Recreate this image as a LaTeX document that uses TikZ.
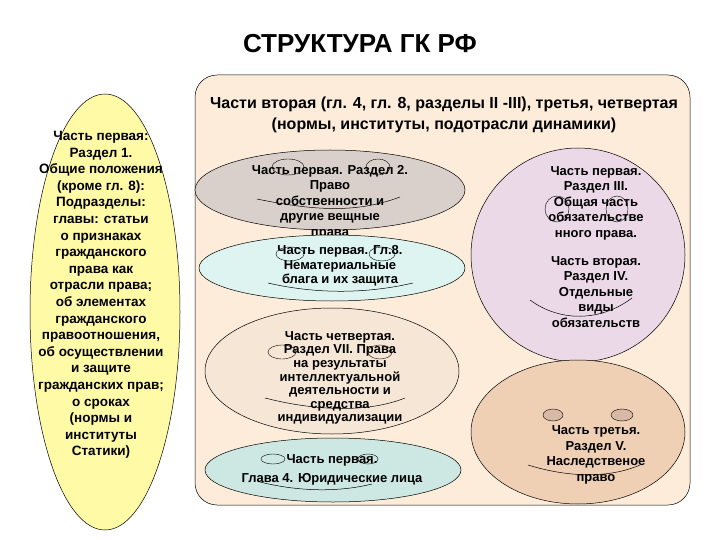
\documentclass[tikz,border=0pt]{standalone}
\usepackage{fontspec}
\setmainfont{Liberation Sans}
\definecolor{bgbox}{RGB}{253,236,218}
\definecolor{ce1}{RGB}{217,208,204}
\definecolor{ce2}{RGB}{221,244,240}
\definecolor{ce3}{RGB}{245,230,214}
\definecolor{ce4}{RGB}{205,232,227}
\definecolor{ce5}{RGB}{235,217,232}
\definecolor{ce6}{RGB}{239,208,181}
\definecolor{ceye}{RGB}{215,185,165}
\begin{document}
\begin{tikzpicture}[x=1pt,y=-1pt,
  bl/.style={draw=black,line width=0.5pt},
  txt/.style={align=center,font=\bfseries\fontsize{13}{15.5}\selectfont,inner sep=0pt},
  eye/.style={draw=black,line width=0.4pt},
  smile/.style={draw=black,line width=0.5pt}]
\useasboundingbox (0,0) rectangle (720,540);
\fill[white] (0,0) rectangle (720,540);
\node[font=\bfseries\fontsize{26}{30}\selectfont] (title) at (360,44) {СТРУКТУРА ГК РФ};
% left ellipse
\draw[bl,fill=yellow!35!white] (105,312) ellipse (75 and 218);
\node[txt,font=\bfseries\fontsize{13.5}{16.6}\selectfont] (left) at (101,295) {Часть первая:\\Раздел 1.\\Общие положения\\(кроме гл. 8):\\Подразделы:\\главы: статьи\\о признаках\\гражданского\\права как\\отрасли права;\\об элементах\\гражданского\\правоотношения,\\об осуществлении\\и защите\\гражданских прав;\\о сроках\\(нормы и\\институты\\Статики)};
% big box
\draw[bl,fill=bgbox,rounded corners=22] (195,75) rectangle (690,505);
\node[font=\bfseries\fontsize{16}{21}\selectfont,align=center] (hdr) at (444,115) {Части вторая (гл. 4, гл. 8, разделы II -III), третья, четвертая\\(нормы, институты, подотрасли динамики)};
% E1
\draw[bl,fill=ce1] (330,190) ellipse (135 and 40);
\draw[eye] (288,167) ellipse (16 and 8); \draw[eye] (378,167) ellipse (12 and 8);
\draw[smile] (257,199) .. controls (320,212) and (360,212) .. (400,197);
\node[txt] (e1) at (330,202) {Часть первая. Раздел 2.\\Право\\собственности и\\другие вещные\\права};
% E2
\draw[bl,fill=ce2] (332,268) ellipse (133 and 33);
\draw[eye] (290,254) ellipse (14 and 7); \draw[eye] (382,254) ellipse (13 and 7);
\draw[smile] (268,283) .. controls (320,295) and (370,293) .. (413,283);
\node[txt,font=\bfseries\fontsize{13}{14.5}\selectfont] (e2) at (340,266) {Часть первая. Гл.8.\\Нематериальные\\блага и их защита};
% E3
\draw[bl,fill=ce3] (332,371) ellipse (127 and 63);
\draw[eye] (282,352) ellipse (14 and 7); \draw[eye] (380,352) ellipse (12 and 7);
\draw[smile] (265,398) .. controls (320,412) and (370,412) .. (405,398);
\node[txt,font=\bfseries\fontsize{13}{13.6}\selectfont] (e3) at (340,378) {Часть четвертая.\\Раздел VII. Права\\на результаты\\интеллектуальной\\деятельности и\\средства\\индивидуализации};
% E4
\draw[bl,fill=ce4] (333,470) ellipse (128 and 32);
\draw[eye] (273,459) ellipse (12 and 5); \draw[eye] (368,459) ellipse (10 and 5);
\draw[smile] (260,482) .. controls (300,492) and (340,492) .. (372,484);
\node[txt,font=\bfseries\fontsize{13}{19}\selectfont] (e4) at (332,470) {Часть первая.\\Глава 4. Юридические лица};
% E5
\draw[bl,fill=ce5] (578,255) ellipse (107 and 107);
\draw[eye] (557,209) ellipse (12 and 13); \draw[eye] (617,209) ellipse (11 and 13);
\draw[smile] (530,300) .. controls (560,322) and (600,322) .. (632,298);
\node[txt] (e5a) at (596,203) {Часть первая.\\Раздел III.\\Общая часть\\обязательстве\\нного права.};
\node[txt] (e5b) at (596,292) {Часть вторая.\\Раздел IV.\\Отдельные\\виды\\обязательств};
% E6
\draw[bl,fill=ce6] (578,432) ellipse (107 and 72);
\draw[eye,fill=ceye] (553,415) ellipse (10 and 6); \draw[eye,fill=ceye] (622,415) ellipse (11 and 6);
\draw[smile] (528,465) .. controls (570,478) and (610,478) .. (640,465);
\node[txt] (e6) at (596,455) {Часть третья.\\Раздел V.\\Наследственое\\право};
\end{tikzpicture}
\end{document}
